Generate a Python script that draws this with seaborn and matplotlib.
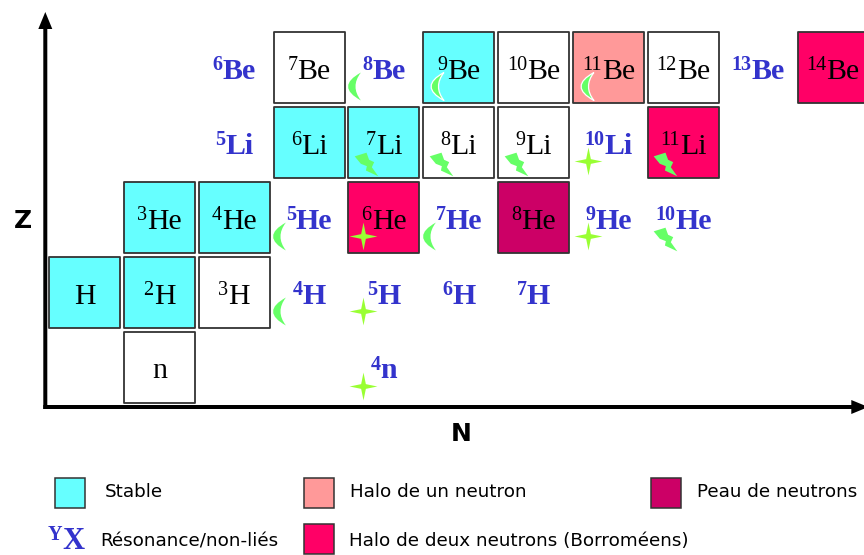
import matplotlib
matplotlib.use("Agg")
import matplotlib.pyplot as plt
import pandas as pd
import seaborn as sns
from matplotlib.path import Path
from matplotlib.patches import Rectangle
from matplotlib.transforms import Affine2D

sns.set_theme(style="white")

# Bound nuclei drawn as boxes
box_symbol = ["H", "H", "n", "H", "He", "He", "He", "He", "Li", "Li", "Li", "Li", "Li",
              "Be", "Be", "Be", "Be", "Be", "Be"]
box_mass = ["", "2", "", "3", "3", "4", "6", "8", "6", "7", "8", "9", "11",
            "7", "9", "10", "11", "12", "14"]
box_N = [0, 1, 1, 2, 1, 2, 4, 6, 3, 4, 5, 6, 8, 3, 5, 6, 7, 8, 10]
box_Z = [1, 1, 0, 1, 2, 2, 2, 2, 3, 3, 3, 3, 3, 4, 4, 4, 4, 4, 4]
box_kind = ["Stable", "Stable", "Plain", "Plain", "Stable", "Stable", "Two", "Skin",
            "Stable", "Stable", "Plain", "Plain", "Two",
            "Plain", "Stable", "Plain", "One", "Plain", "Two"]

# Resonant / unbound nuclei drawn as blue labels
free_symbol = ["H", "H", "H", "H", "n", "He", "He", "He", "He", "Li", "Li", "Be", "Be", "Be"]
free_mass = ["4", "5", "6", "7", "4", "5", "7", "9", "10", "5", "10", "6", "8", "13"]
free_N = [3, 4, 5, 6, 4, 3, 5, 7, 8, 2, 7, 2, 4, 9]
free_Z = [1, 1, 1, 1, 0, 2, 2, 2, 2, 3, 3, 4, 4, 4]

# Decay / reaction symbols
crescent_N = [3, 3, 5, 4]
crescent_Z = [1, 2, 2, 4]
crescent_box_N = [5, 7]
crescent_box_Z = [4, 4]
star_N = [4, 4, 4, 7, 7]
star_Z = [0, 1, 2, 2, 3]
bolt_N = [4, 5, 6, 8, 8]
bolt_Z = [3, 3, 3, 3, 2]

kind_colors = {"Stable": "#66FFFF", "Plain": "#FFFFFF", "One": "#FF9999",
               "Two": "#FF0066", "Skin": "#CC0066"}
legend_rows = [("Stable", "Stable", 55, 478, 105, 492),
               ("One", "Halo de un neutron", 304, 478, 350, 492),
               ("Skin", "Peau de neutrons", 651, 478, 697, 492),
               ("Two", "Halo de deux neutrons (Borroméens)", 304, 524, 349, 541)]

W, H = 864, 555
PITCH_X, PITCH_Y = 74.85, 75.0
X0, Y0 = 84.5, 367.5
BLUE = "#3333CC"
GREEN = "#66FF66"
LEGEND_FONT = "DejaVu Sans"
SERIF = "Liberation Serif"
MAIN_SIZE = 21.5
SUP_SIZE = 14.5

fig = plt.figure(figsize=(W / 100, H / 100), dpi=100)
ax = fig.add_axes([0, 0, 1, 1])
px = Affine2D().scale(1, -1).translate(0, H)
renderer = fig.canvas.get_renderer()


def pdx(v):
    return v / PITCH_X


def pdy(v):
    return v / PITCH_Y


def text_width(s, **kw):
    t = ax.text(0, 0, s, family=SERIF, **kw)
    w = t.get_window_extent(renderer).width
    t.remove()
    return w


def draw_nuclide(mass, sym, base_x, base_y, coords, color, weight, size=MAIN_SIZE, sup=SUP_SIZE, raise_px=9):
    sw = text_width(mass, fontsize=sup, weight=weight) if mass else 0
    mw = text_width(sym, fontsize=size, weight=weight)
    left = -(sw + mw) / 2
    to_pt = 72 / fig.dpi
    common = dict(xy=(base_x, base_y), xycoords=coords, textcoords="offset points", family=SERIF,
                  weight=weight, color=color, ha="left", va="baseline", zorder=3, annotation_clip=False)
    if mass:
        ax.annotate(mass, xytext=(left * to_pt, raise_px * to_pt), fontsize=sup, **common)
    ax.annotate(sym, xytext=((left + sw) * to_pt, 0), fontsize=size, **common)


boxes = pd.DataFrame({"N": box_N, "Z": box_Z, "kind": box_kind})
sns.scatterplot(data=boxes, x="N", y="Z", hue="kind", palette=kind_colors, marker="s",
                s=2613, edgecolor="#333333", linewidth=1.3, legend=False, ax=ax, zorder=2)

# Marker shapes
crescent = Path([(0.46, 1), (-1.38, 0), (0.46, -1), (-0.32, 0), (0.46, 1)],
                [Path.MOVETO, Path.CURVE3, Path.CURVE3, Path.CURVE3, Path.CURVE3])
t = 0.17
star = Path([(1, 0), (t, t), (0, 1), (-t, t), (-1, 0), (-t, -t), (0, -1), (t, -t), (1, 0)], closed=True)
bolt = Path([(-1, .69), (0, 1), (.22, .4), (.65, .2), (.45, -.23), (1, -1), (-.05, -.51),
             (.03, -.14), (-.48, .06), (-1, .69)], closed=True)

sns.scatterplot(x=[n - pdx(30) for n in crescent_N], y=[z - pdy(18) for z in crescent_Z],
                marker=crescent, s=773, color=GREEN, linewidth=0, ax=ax, zorder=5)
sns.scatterplot(x=[n - pdx(21.5) for n in crescent_box_N], y=[z - pdy(18) for z in crescent_box_Z],
                marker=crescent, s=773, color=GREEN, edgecolor="white", linewidth=0.9, ax=ax, zorder=5)
sns.scatterplot(x=[n - pdx(20.5) for n in star_N], y=[z - pdy(18.5) for z in star_Z],
                marker=star, s=400, color="#99FF33", linewidth=0, ax=ax, zorder=5)
sns.scatterplot(x=[n - pdx(18) for n in bolt_N], y=[z - pdy(21) for z in bolt_Z],
                marker=bolt, s=290, color=GREEN, linewidth=0, ax=ax, zorder=5)

ax.set_xlim(-X0 / PITCH_X, (W - X0) / PITCH_X)
ax.set_ylim((Y0 - H) / PITCH_Y, Y0 / PITCH_Y)
ax.set_xlabel("")
ax.set_ylabel("")
ax.set_xticks([])
ax.set_yticks([])
for s in ax.spines.values():
    s.set_visible(False)
ax.patch.set_alpha(0)

for sym, m, n, z in zip(box_symbol, box_mass, box_N, box_Z):
    draw_nuclide(m, sym, n, z - pdy(11), "data", "black", "normal")
for sym, m, n, z in zip(free_symbol, free_mass, free_N, free_Z):
    draw_nuclide(m, sym, n, z - pdy(11), "data", BLUE, "bold")

# Arrowed axes
ax.arrow(45.3, 409, 0, -397, width=4, head_width=14, head_length=17, length_includes_head=True,
         transform=px, color="black", linewidth=0, zorder=6)
ax.arrow(43.3, 407, 825, 0, width=4, head_width=14, head_length=17, length_includes_head=True,
         transform=px, color="black", linewidth=0, zorder=6, clip_on=False)
ax.text(23, 221, "Z", transform=px, family="DejaVu Sans", weight="bold", fontsize=18,
        color="black", ha="center", va="center")
ax.text(461, 434, "N", transform=px, family="DejaVu Sans", weight="bold", fontsize=18,
        color="black", ha="center", va="center")

# Legend
for kind, label, bx, by, tx, ty in legend_rows:
    ax.add_patch(Rectangle((bx, by), 29.5, 29.5, transform=px, facecolor=kind_colors[kind],
                           edgecolor="#333333", linewidth=1.1, zorder=4))
    ax.text(tx, ty, label, transform=px, family=LEGEND_FONT, fontsize=13.2, color="black",
            ha="left", va="center")
draw_nuclide("Y", "X", 66.5, 549, px, BLUE, "bold", size=22, sup=14.5)
ax.text(100, 541, "Résonance/non-liés", transform=px, family=LEGEND_FONT, fontsize=13.2,
        color="black", ha="left", va="center")

fig.savefig("out.png", dpi=100)
